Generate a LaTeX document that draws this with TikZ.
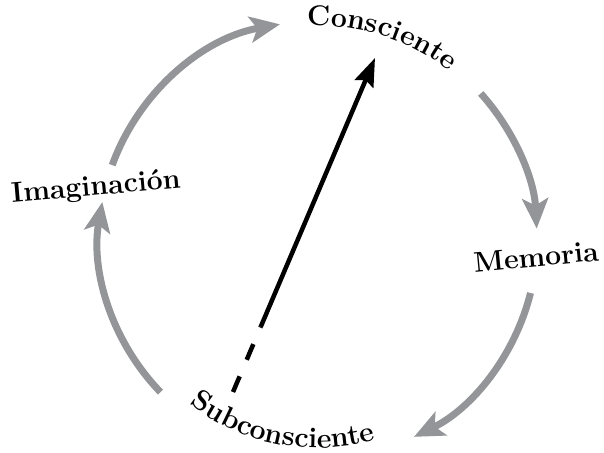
\documentclass[tikz,border=0pt]{standalone}
\usepackage{tikz}
\usetikzlibrary{arrows.meta,decorations.text,calc}
\definecolor{cyclegray}{RGB}{147,149,152}
\tikzset{
  cyclearrow/.style={line width=7pt, color=cyclegray, -{Stealth[length=30pt,width=26pt,inset=7pt]}},
  stagelabel/.style={font=\bfseries\fontsize{28.5}{31}\selectfont, inner sep=0pt},
  riseline/.style={line width=4.5pt, color=black},
}
\newcommand{\stagefont}{\bfseries\fontsize{28.5}{31}\selectfont}

\begin{document}
\begin{tikzpicture}[x=1pt,y=1pt]
    \useasboundingbox (0,0) rectangle (604,452);
    \coordinate (ctr) at (318,212);
    % gray cycle
    \coordinate (ima-out) at ($(ctr)+(160:219pt)$);
    \coordinate (con-out) at ($(ctr)+(42:219pt)$);
    \coordinate (mem-out) at ($(ctr)+(-14:219pt)$);
    \coordinate (sub-out) at ($(ctr)+(224:219pt)$);
    \draw [cyclearrow] (ima-out) arc[start angle=160, end angle=100, radius=219pt];
    \draw [cyclearrow] (con-out) arc[start angle=42, end angle=3, radius=219pt];
    \draw [cyclearrow] (mem-out) arc[start angle=-14, end angle=-64, radius=219pt];
    \draw [cyclearrow] (sub-out) arc[start angle=224, end angle=170, radius=219pt];
    % labels
    \node [stagelabel, rotate=5] (ima) at (96,264) {Imaginación};
    \node [stagelabel, rotate=5.5] (mem) at (536,195) {Memoria};
    \coordinate (con-base) at ($(ctr)+(97.5:214pt)$);
    \coordinate (sub-base) at ($(ctr)+(224:208pt)$);
    \path [decorate, decoration={text along path, text align=center,
        text={|\stagefont|Consciente}}]
        (con-base) arc[start angle=97.5, end angle=47.5, radius=214pt];
    \path [decorate, decoration={text along path, text align=center,
        text={|\stagefont|Subconsciente}}]
        (sub-base) arc[start angle=224, end angle=294, radius=208pt];
    % black arrow
    \coordinate (sub-tail) at (233,60);
    \coordinate (con-tip) at (375,394);
    \coordinate (split) at ($(sub-tail)!0.195!(con-tip)$);
    \draw [riseline, dash pattern=on 17pt off 18pt] (sub-tail) -- (split);
    \draw [riseline, -{Stealth[length=28pt,width=20pt,inset=4pt]}] (split) -- (con-tip);
\end{tikzpicture}
\end{document}
